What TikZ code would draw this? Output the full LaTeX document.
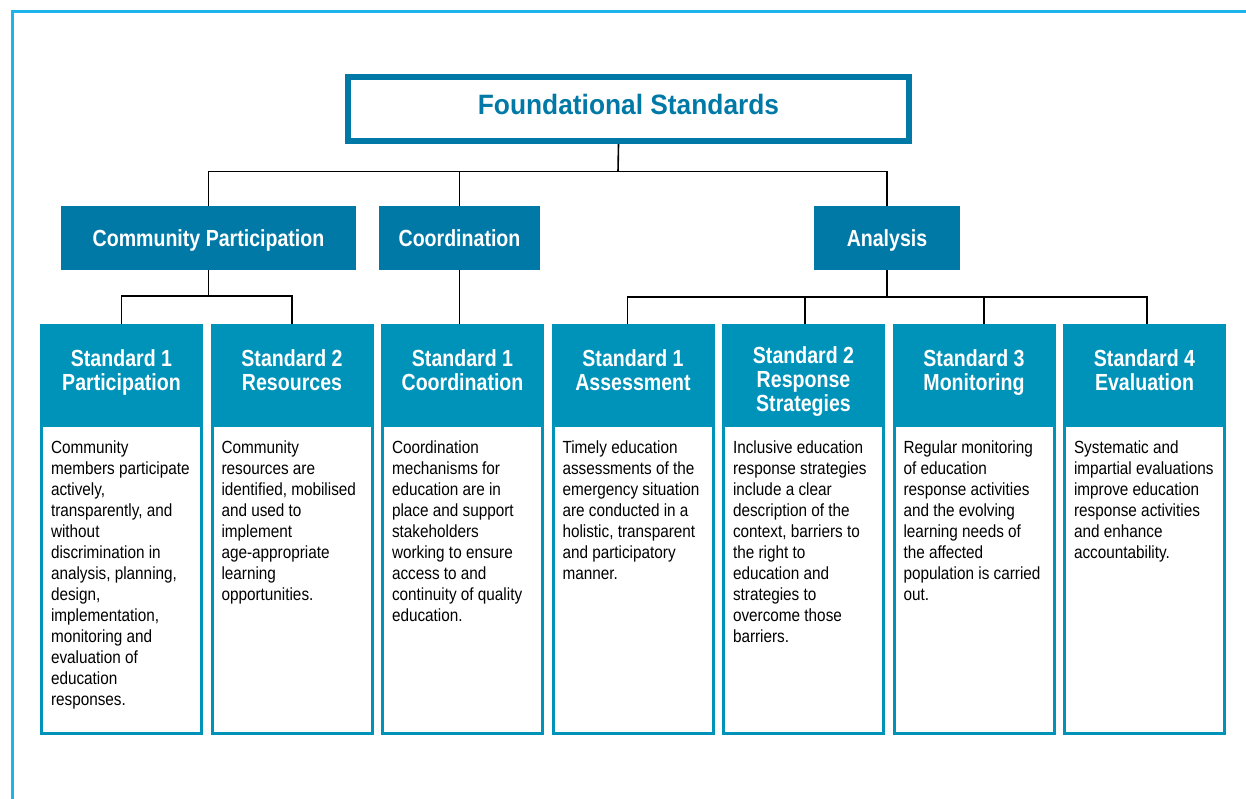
\documentclass[tikz,border=0pt]{standalone}
\usepackage{fontspec}
\setmainfont{Liberation Sans}[FakeStretch=0.87]
\newfontfamily\headfont{Liberation Sans}[FakeStretch=0.84]
\newfontfamily\titlefont{Liberation Sans}[FakeStretch=0.94]
\usepackage{tikz}
\usetikzlibrary{positioning}
\definecolor{titleblue}{RGB}{0,121,166}
\definecolor{hdrblue}{RGB}{0,147,186}
\definecolor{frameblue}{RGB}{28,180,234}

\begin{document}
\begin{tikzpicture}[
    x=1pt, y=-1pt,
    node distance=7.5pt,
    title box/.style={
        draw=titleblue,
        line width=6pt,
        minimum width=561pt,
        minimum height=64pt,
        text height=20pt,
        text depth=8pt,
        text=titleblue,
        font=\titlefont\bfseries\fontsize{28}{32}\selectfont
    },
    cat box/.style={
        fill=titleblue,
        minimum height=64pt,
        text height=17.4pt,
        text depth=0pt,
        text=white,
        font=\headfont\bfseries\fontsize{23.3}{25}\selectfont
    },
    card/.style={draw=hdrblue, line width=3pt, fill=white, minimum width=160pt, minimum height=408.5pt, inner sep=0pt},
    head/.style={fill=hdrblue, minimum width=163pt, minimum height=103pt, inner sep=0pt},
    head text/.style={align=center, inner sep=0pt, text=white, font=\headfont\bfseries\fontsize{23.3}{24}\selectfont},
    body text/.style={align=left, inner sep=0pt, font=\fontsize{17.6}{21}\selectfont},
    link/.style={line width=1.6pt}
]

\useasboundingbox (0,0) rectangle (1246,799);
\begin{scope}
    \clip (0,0) rectangle (1246,799);
    \draw[frameblue, line width=3pt] (12.5,11.5) rectangle (1270,820);
\end{scope}

\node[title box] (title) at (628.5,109) {Foundational Standards};

\node[cat box, minimum width=295pt] (comm) at (208.5,238) {Community Participation};
\node[cat box, minimum width=161pt] (coord) at (459.5,238) {Coordination};
\node[cat box, minimum width=146pt] (anal) at (887,238) {Analysis};

% the seven standards
\node[card, anchor=north west] (s1) at (40,323.5) {};
\node[card, right=of s1] (s2) {};
\node[card, right=of s2] (s3) {};
\node[card, right=of s3] (s4) {};
\node[card, right=of s4] (s5) {};
\node[card, right=of s5] (s6) {};
\node[card, right=of s6] (s7) {};

\node[head, anchor=north] (h1) at (s1.north) {};
\node[head, anchor=north] (h2) at (s2.north) {};
\node[head, anchor=north] (h3) at (s3.north) {};
\node[head, anchor=north] (h4) at (s4.north) {};
\node[head, anchor=north] (h5) at (s5.north) {};
\node[head, anchor=north] (h6) at (s6.north) {};
\node[head, anchor=north] (h7) at (s7.north) {};

\node[head text, below=26pt of h1.north] (t1) {Standard 1\\Participation};
\node[head text, below=26pt of h2.north] (t2) {Standard 2\\Resources};
\node[head text, below=26pt of h3.north] (t3) {Standard 1\\Coordination};
\node[head text, below=26pt of h4.north] (t4) {Standard 1\\Assessment};
\node[head text, below=23pt of h5.north] (t5) {Standard 2\\Response\\Strategies};
\node[head text, below=26pt of h6.north] (t6) {Standard 3\\Monitoring};
\node[head text, below=26pt of h7.north] (t7) {Standard 4\\Evaluation};

\node[body text, below right=14pt and 11pt of h1.south west] (b1) {Community\\members participate\\actively,\\transparently, and\\without\\discrimination in\\analysis, planning,\\design,\\implementation,\\monitoring and\\evaluation of\\education\\responses.};
\node[body text, below right=14pt and 11pt of h2.south west] (b2) {Community\\resources are\\identified, mobilised\\and used to\\implement\\age-appropriate\\learning\\opportunities.};
\node[body text, below right=14pt and 11pt of h3.south west] (b3) {Coordination\\mechanisms for\\education are in\\place and support\\stakeholders\\working to ensure\\access to and\\continuity of quality\\education.};
\node[body text, below right=14pt and 11pt of h4.south west] (b4) {Timely education\\assessments of the\\emergency situation\\are conducted in a\\holistic, transparent\\and participatory\\manner.};
\node[body text, below right=14pt and 11pt of h5.south west] (b5) {Inclusive education\\response strategies\\include a clear\\description of the\\context, barriers to\\the right to\\education and\\strategies to\\overcome those\\barriers.};
\node[body text, below right=14pt and 11pt of h6.south west] (b6) {Regular monitoring\\of education\\response activities\\and the evolving\\learning needs of\\the affected\\population is carried\\out.};
\node[body text, below right=14pt and 11pt of h7.south west] (b7) {Systematic and\\impartial evaluations\\improve education\\response activities\\and enhance\\accountability.};

% connectors
\coordinate (bus) at (618,171.5);
\draw[link] ([xshift=-10pt]title.south) -- (bus);
\draw[link] (comm.north) |- (bus) -| (anal.north);
\draw[link] (coord.north) -- (coord.north |- bus);

\coordinate[below=26pt of comm.south] (cb);
\draw[link] (comm.south) -- (cb);
\draw[link] (s1.north) |- (cb) -| (s2.north);

\draw[link] (coord.south) -- (coord.south |- s3.north);

\coordinate[below=27pt of anal.south] (ab);
\draw[link] (anal.south) -- (ab);
\draw[link] ([xshift=-5.5pt]s4.north) |- (ab) -| ([xshift=2.5pt]s7.north);
\draw[link] ([xshift=1.5pt]s5.north) -- ([xshift=1.5pt]s5.north |- ab);
\draw[link] ([xshift=10pt]s6.north) -- ([xshift=10pt]s6.north |- ab);

\end{tikzpicture}
\end{document}
